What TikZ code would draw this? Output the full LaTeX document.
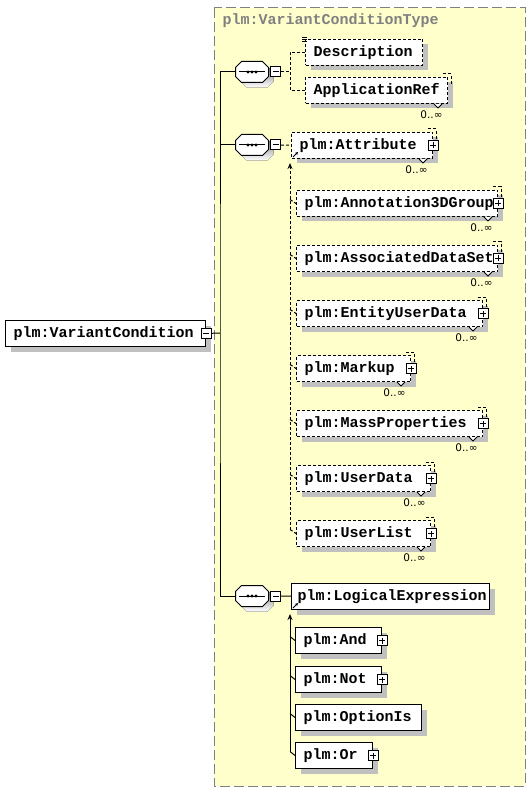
\documentclass[tikz,border=0pt]{standalone}
\usepackage{fontspec}
\usetikzlibrary{positioning,shadows,arrows.meta}
\newfontfamily\elemfamily{Liberation Mono}
\newfontfamily\multfamily{DejaVu Sans}
\newcommand{\elemfont}{\elemfamily\bfseries\fontsize{15}{18}\selectfont}
\newcommand{\multfont}{\multfamily\fontsize{10.5}{12}\selectfont}
\definecolor{panel}{HTML}{FFFFCC}
\definecolor{shade}{HTML}{C0C0C0}
\definecolor{frame}{HTML}{808080}

\begin{document}
\begin{tikzpicture}[x=1pt, y=-1pt, line width=1pt,
    elem/.style={draw, fill=white, font=\elemfont, anchor=north west,
        minimum height=26pt, inner xsep=8pt, inner ysep=2pt,
        text width=#1pt, align=left,
        drop shadow={shadow xshift=5pt, shadow yshift=-5pt, fill=shade, opacity=1}},
    opt/.style={dash pattern=on 3pt off 2pt},
    seqbox/.style={minimum width=33pt, minimum height=21pt, inner sep=0pt},
    minusbox/.style={draw, fill=white, minimum size=10pt, inner sep=0pt,
        path picture={
            \draw ([xshift=2pt]path picture bounding box.west) -- ([xshift=-2pt]path picture bounding box.east);
        }},
    plusbox/.style={draw, fill=white, minimum size=10pt, inner sep=0pt,
        path picture={
            \draw ([xshift=2pt]path picture bounding box.west) -- ([xshift=-2pt]path picture bounding box.east);
            \draw ([yshift=2pt]path picture bounding box.south) -- ([yshift=-2pt]path picture bounding box.north);
        }},
    mult/.style={font=\multfont, anchor=north east, inner sep=0pt}]

    \useasboundingbox (0,0) rectangle (530,791);

    % Type frame
    \draw[frame, dash pattern=on 10pt off 4pt, fill=panel] (214,8) rectangle (525,786);
    \node[font=\elemfont, text=frame, anchor=west, inner sep=0pt] (typename) at (222,21) {plm:VariantConditionType};

    % Root element
    \node[elem=184] (root) at (5,320) {plm:VariantCondition};
    \node[minusbox] (root-m) at (root.east) {};

    % Sequences
    \foreach \nm/\y in {seqa/72, seqb/145, seqc/596} {
        \node[seqbox, anchor=west] (\nm) at (235,\y) {};
        \begin{scope}[shift={(\nm.center)}]
            \fill[shade, xshift=5pt, yshift=-5pt] (-16.5,-4.5) -- (-10.5,-10.5) -- (10.5,-10.5) -- (16.5,-4.5)
                -- (16.5,4.5) -- (10.5,10.5) -- (-10.5,10.5) -- (-16.5,4.5) -- cycle;
            \draw[fill=white] (-16.5,-4.5) -- (-10.5,-10.5) -- (10.5,-10.5) -- (16.5,-4.5)
                -- (16.5,4.5) -- (10.5,10.5) -- (-10.5,10.5) -- (-16.5,4.5) -- cycle;
            \draw (-13,0) -- (13,0);
            \foreach \d in {-4,0,4} \fill (\d,0) circle (1.6pt);
        \end{scope}
        \node[minusbox, right=1pt of \nm] (\nm-m) {};
    }

    % First sequence
    \node[elem=101, opt] (desc) at (305,39) {Description};
    \node[elem=126, opt] (appref) at (305,77) {ApplicationRef};
    \draw[line width=0.6pt] ([shift={(-3pt,2pt)}]desc.north west) -- ++(5pt,0pt);
    \draw[line width=0.6pt] ([shift={(-3pt,0pt)}]desc.north west) -- ++(5pt,0pt);
    \draw[line width=0.6pt] ([shift={(-3pt,-2pt)}]desc.north west) -- ++(5pt,0pt);

    % Substitution group
    \node[elem=125, opt] (attr) at (291,132) {plm:Attribute};
    \foreach \nm/\txt/\tw/\top in {anno/Annotation3DGroup/185/190, adset/AssociatedDataSet/185/245,
            eud/EntityUserData/170/300, markup/Markup/98/355, mass/MassProperties/170/410,
            udata/UserData/118/465, ulist/UserList/118/520} {
        \node[elem=\tw, opt] (\nm) at (296,\top) {plm:\txt};
        \draw[opt] ([shift={(-6pt,4pt)}]\nm.west) -- (\nm.west);
    }

    % Logical expression
    \node[elem=186, inner xsep=6pt] (logex) at (291,583) {plm:LogicalExpression};
    \foreach \nm/\txt/\tw/\top in {and/And/70/627, not/Not/70/666, optis/OptionIs/110/704, or/Or/61/742} {
        \node[elem=\tw] (\nm) at (295,\top) {plm:\txt};
        \draw ([shift={(-5pt,4pt)}]\nm.west) -- (\nm.west);
    }

    % Repeated elements
    \foreach \nm in {appref, attr, anno, adset, eud, markup, mass, udata, ulist} {
        \draw[opt] ([shift={(-5pt,3pt)}]\nm.north east) -| ([shift={(3pt,-8pt)}]\nm.north east);
        \draw[fill=white] ([xshift=-14pt]\nm.south east) -- ++(4pt,-4pt) -- ++(4pt,4pt);
        \node[mult] (\nm-n) at ([shift={(-5pt,-6pt)}]\nm.south east) {0..∞};
    }

    % Expand boxes
    \foreach \nm in {attr, anno, adset, eud, markup, mass, udata, ulist, and, not, or} {
        \node[plusbox] (\nm-p) at (\nm.east) {};
    }

    % Connectors
    \coordinate (hub) at (220,333);
    \coordinate (forka) at (290,72);
    \draw (root-m) -- (hub);
    \draw (seqa.west) -| (hub) |- (seqc.west);
    \draw (seqb.west) -- (seqb.west -| hub);
    \draw[opt] (seqa-m) -- (forka);
    \draw[opt] (desc) -| (forka) |- (appref);
    \draw[opt] (seqb-m) -- (attr);
    \draw (seqc-m) -- (logex);

    % Substitution arrows
    \draw[opt, -{Stealth[length=6pt, width=5pt]}] ([shift={(-6pt,4pt)}]ulist.west) -- ([shift={(-1pt,-4pt)}]attr.south west);
    \draw[-{Stealth[length=6pt, width=5pt]}] ([shift={(-5pt,4pt)}]or.west) -- ([shift={(-1pt,-4pt)}]logex.south west);
    \draw[-{Stealth[length=3pt, width=3pt]}] ([shift={(2pt,2pt)}]attr.south west) -- ++(5pt,5pt);
    \draw[-{Stealth[length=3pt, width=3pt]}] ([shift={(2pt,2pt)}]logex.south west) -- ++(5pt,5pt);
\end{tikzpicture}
\end{document}
